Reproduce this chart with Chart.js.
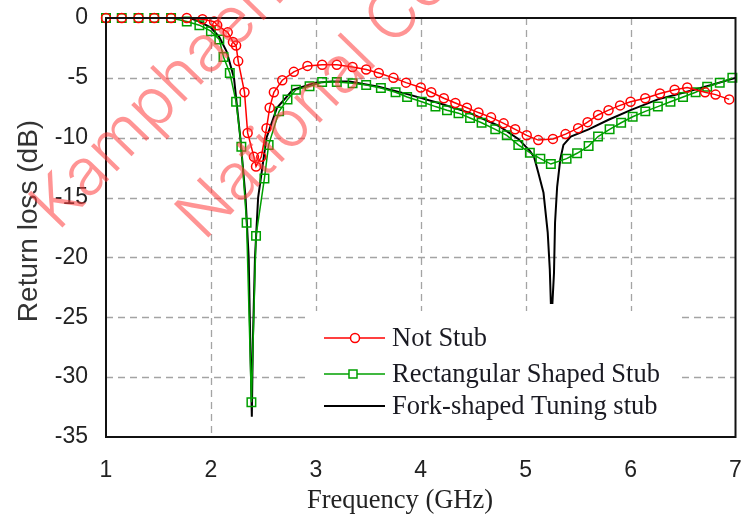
<!DOCTYPE html>
<html>
<head>
<meta charset="utf-8">
<script src="https://cdn.jsdelivr.net/npm/chart.js@4.4.0/dist/chart.umd.min.js"></script>
<style>
  html, body { margin: 0; padding: 0; background: #fff; }
  canvas { display: block; }
</style>
</head>
<body>
<canvas id="rlChart" width="743" height="517"></canvas>
<script>
// Return loss curves (frequency in GHz, return loss in dB)
const notStubFreq = [1.0, 1.15, 1.31, 1.46, 1.62, 1.77, 1.92, 2.03, 2.06, 2.16, 2.21, 2.24, 2.26, 2.32, 2.35, 2.41, 2.43, 2.48, 2.53, 2.56, 2.60, 2.68, 2.79, 2.92, 3.06, 3.20, 3.35, 3.48, 3.60, 3.74, 3.86, 4.00, 4.10, 4.22, 4.33, 4.44, 4.55, 4.67, 4.79, 4.90, 5.01, 5.12, 5.26, 5.38, 5.50, 5.59, 5.69, 5.79, 5.90, 6.00, 6.14, 6.28, 6.42, 6.54, 6.71, 6.81, 6.94];
const notStubRL = [0, 0, 0, 0, 0, 0, -0.1, -0.3, -0.6, -1.2, -2.0, -2.3, -3.6, -6.2, -9.6, -11.6, -12.4, -11.6, -9.2, -7.5, -6.2, -5.2, -4.5, -4.0, -3.9, -3.9, -4.1, -4.3, -4.6, -5.0, -5.4, -5.8, -6.2, -6.7, -7.1, -7.5, -7.9, -8.3, -8.8, -9.3, -9.8, -10.2, -10.1, -9.7, -9.2, -8.7, -8.1, -7.7, -7.3, -7.0, -6.7, -6.3, -6.0, -5.8, -6.2, -6.4, -6.8];

const rectStubFreq = [1.0, 1.15, 1.31, 1.46, 1.62, 1.77, 1.89, 2.0, 2.08, 2.12, 2.18, 2.24, 2.29, 2.34, 2.386, 2.43, 2.51, 2.55, 2.65, 2.73, 2.81, 2.94, 3.06, 3.20, 3.35, 3.48, 3.62, 3.76, 3.87, 4.01, 4.14, 4.25, 4.36, 4.47, 4.58, 4.71, 4.82, 4.93, 5.04, 5.14, 5.24, 5.39, 5.49, 5.60, 5.69, 5.80, 5.91, 6.02, 6.14, 6.26, 6.38, 6.50, 6.62, 6.73, 6.85, 6.97];
const rectStubRL = [0, 0, 0, 0, 0, -0.3, -0.6, -1.1, -1.8, -3.25, -4.6, -7.0, -10.75, -17.1, -32.1, -18.2, -13.4, -10.6, -7.8, -6.8, -6.0, -5.7, -5.35, -5.35, -5.45, -5.6, -5.85, -6.2, -6.6, -7.0, -7.4, -7.7, -7.95, -8.35, -8.75, -9.3, -9.8, -10.6, -11.25, -11.75, -12.2, -11.75, -11.3, -10.7, -9.9, -9.3, -8.75, -8.25, -7.8, -7.4, -7.0, -6.6, -6.2, -5.75, -5.4, -5.0];

const forkFreq = [1.0, 1.8, 1.89, 2.0, 2.08, 2.15, 2.22, 2.28, 2.33, 2.36, 2.375, 2.39, 2.40, 2.42, 2.45, 2.53, 2.63, 2.78, 3.0, 3.15, 3.32, 3.6, 3.89, 4.17, 4.46, 4.74, 4.93, 5.04, 5.08, 5.12, 5.17, 5.21, 5.23, 5.24, 5.255, 5.27, 5.28, 5.30, 5.33, 5.36, 5.43, 5.6, 5.79, 6.0, 6.26, 6.52, 6.77, 7.0];
const forkRL = [0, 0, -0.3, -0.8, -1.6, -2.8, -5.0, -10.0, -15.0, -20.0, -27.0, -33.3, -27.0, -20.0, -15.0, -10.0, -7.5, -6.0, -5.4, -5.3, -5.3, -5.75, -6.4, -7.1, -7.9, -9.0, -10.1, -11.1, -11.6, -12.9, -14.6, -17.9, -21.0, -23.8, -23.8, -21.3, -17.1, -14.1, -11.8, -10.6, -9.9, -9.3, -8.5, -7.7, -6.8, -6.2, -5.6, -5.0];

const seriesNames = ['Not Stub', 'Rectangular Shaped Stub', 'Fork-shaped Tuning stub'];
const xTicks = [1, 2, 3, 4, 5, 6, 7];
const yTicks = [0, -5, -10, -15, -20, -25, -30, -35];

function toPoints(xs, ys) {
    return xs.map((x, i) => ({ x: x, y: ys[i] }));
}

const tickFont = { family: '"Liberation Sans", Arial, sans-serif', size: 23 };
const serifFont = '26.5px "Liberation Serif", "Times New Roman", serif';

// dashed grid, frame, legend, axis titles and watermark drawn by hand
const decorations = {
    id: 'decorations',
    beforeDatasetsDraw(chart) {
        const ctx = chart.ctx;
        const a = chart.chartArea;
        const xs = chart.scales.x, ys = chart.scales.y;
        ctx.save();
        ctx.strokeStyle = '#a4a4a4';
        ctx.lineWidth = 1.3;
        ctx.setLineDash([7, 5]);
        xTicks.slice(1, -1).forEach(v => {
            const px = Math.round(xs.getPixelForValue(v)) + 0.5;
            ctx.beginPath();
            ctx.moveTo(px, a.top);
            ctx.lineTo(px, a.bottom);
            ctx.stroke();
        });
        yTicks.slice(1, -1).forEach(v => {
            const py = Math.round(ys.getPixelForValue(v)) + 0.5;
            ctx.beginPath();
            ctx.moveTo(a.left, py);
            ctx.lineTo(a.right, py);
            ctx.stroke();
        });
        ctx.setLineDash([]);
        // legend box hides the grid behind it
        ctx.fillStyle = '#ffffff';
        ctx.fillRect(307, 311, 370, 124);
        ctx.restore();
    },
    afterDatasetsDraw(chart) {
        const ctx = chart.ctx;
        const a = chart.chartArea;
        ctx.save();
        ctx.strokeStyle = '#111';
        ctx.lineWidth = 2;
        ctx.strokeRect(a.left, a.top, a.right - a.left, a.bottom - a.top);

        // legend
        const rows = [
            { y: 338, color: '#ff0000', marker: 'circle', mx: 355 },
            { y: 374, color: '#00a000', marker: 'rect', mx: 353 },
            { y: 406, color: '#000000', marker: null, mx: 0 }
        ];
        rows.forEach((r, i) => {
            ctx.strokeStyle = r.color;
            ctx.lineWidth = i === 2 ? 2 : 1.5;
            ctx.beginPath();
            ctx.moveTo(324, r.y);
            ctx.lineTo(385, r.y);
            ctx.stroke();
            if (r.marker === 'circle') {
                ctx.fillStyle = '#fff';
                ctx.beginPath();
                ctx.arc(r.mx, r.y, 4.5, 0, Math.PI * 2);
                ctx.fill();
                ctx.stroke();
            } else if (r.marker === 'rect') {
                ctx.fillStyle = '#fff';
                ctx.fillRect(r.mx - 4, r.y - 4, 8, 8);
                ctx.strokeRect(r.mx - 4, r.y - 4, 8, 8);
            }
            ctx.fillStyle = '#1a1a22';
            ctx.font = serifFont;
            ctx.textAlign = 'left';
            ctx.textBaseline = 'middle';
            ctx.fillText(seriesNames[i], 392, r.y + 1);
        });

        // axis titles
        ctx.fillStyle = '#222';
        ctx.font = serifFont;
        ctx.textAlign = 'center';
        ctx.textBaseline = 'middle';
        ctx.fillText('Frequency (GHz)', 400, 501);

        ctx.translate(29, 221);
        ctx.rotate(-Math.PI / 2);
        ctx.font = '28px "Liberation Sans", Arial, sans-serif';
        ctx.fillStyle = '#333';
        ctx.fillText('Return loss (dB)', 0, 0);
        ctx.restore();
    },
    afterDraw(chart) {
        const ctx = chart.ctx;
        ctx.save();
        ctx.fillStyle = 'rgba(255, 60, 60, 0.55)';
        ctx.font = '300 66px Inter, "Liberation Sans", Arial, sans-serif';
        ctx.textAlign = 'left';
        ctx.textBaseline = 'alphabetic';
        [['Kamphaeng', 58, 232], ['National Co', 204, 242]].forEach(w => {
            ctx.save();
            ctx.translate(w[1], w[2]);
            ctx.rotate(-0.8);
            ctx.fillText(w[0], 0, 0);
            ctx.restore();
        });
        ctx.restore();
    }
};

const rlChart = new Chart(document.getElementById('rlChart'), {
    type: 'line',
    data: {
        datasets: [{
            label: seriesNames[0],
            data: toPoints(notStubFreq, notStubRL),
            borderColor: '#ff0000',
            borderWidth: 1.5,
            pointStyle: 'circle',
            pointRadius: 4.5,
            pointBorderWidth: 1.5,
            pointBorderColor: '#ff0000',
            pointBackgroundColor: 'rgba(255,255,255,0)',
            clip: false
        }, {
            label: seriesNames[1],
            data: toPoints(rectStubFreq, rectStubRL),
            borderColor: '#00a000',
            borderWidth: 1.5,
            pointStyle: 'rect',
            pointRadius: 6,
            pointBorderWidth: 1.5,
            pointBorderColor: '#00a000',
            pointBackgroundColor: 'rgba(255,255,255,0)',
            clip: false
        }, {
            label: seriesNames[2],
            data: toPoints(forkFreq, forkRL),
            borderColor: '#000000',
            borderWidth: 2,
            pointRadius: 0,
            clip: false
        }]
    },
    options: {
        responsive: false,
        animation: false,
        layout: { padding: { top: 18, right: 5, left: 0, bottom: 0 } },
        elements: { line: { tension: 0 } },
        scales: {
            x: {
                type: 'linear',
                min: 1,
                max: 7,
                afterBuildTicks: s => { s.ticks = xTicks.map(v => ({ value: v })); },
                afterFit: s => { s.height = 80; s.paddingLeft = 0; s.paddingRight = 0; },
                ticks: { font: tickFont, color: '#222', padding: 20, maxRotation: 0 },
                grid: { display: false, drawTicks: false },
                border: { display: false }
            },
            y: {
                type: 'linear',
                min: -35,
                max: 0,
                afterBuildTicks: s => { s.ticks = yTicks.map(v => ({ value: v })); },
                afterFit: s => { s.width = 106; s.paddingTop = 0; s.paddingBottom = 0; },
                ticks: { font: tickFont, color: '#222', padding: 18 },
                grid: { display: false, drawTicks: false },
                border: { display: false }
            }
        },
        plugins: {
            legend: { display: false },
            tooltip: { enabled: false }
        }
    },
    plugins: [decorations]
});
</script>
</body>
</html>
